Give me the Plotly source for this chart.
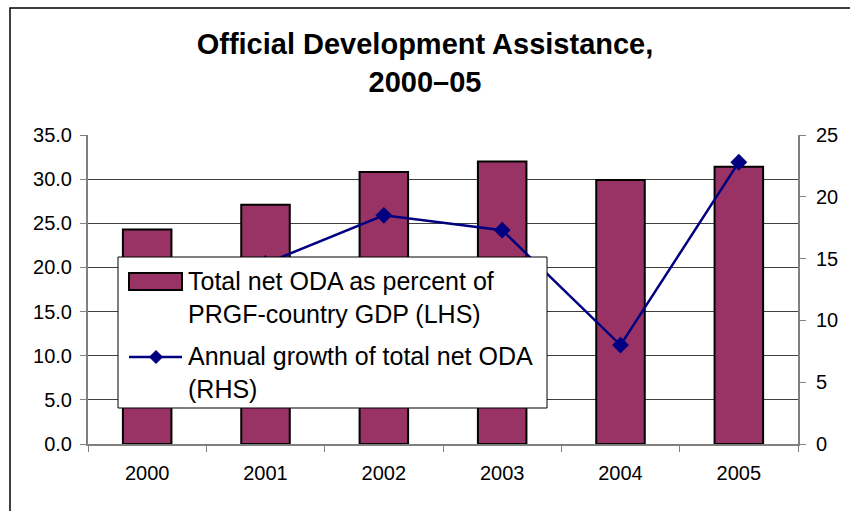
import plotly.graph_objects as go

# ---- data ----
years = ["2000", "2001", "2002", "2003", "2004", "2005"]
oda_pct_gdp = [24.3, 27.1, 30.8, 32.0, 29.9, 31.4]          # LHS, percent of GDP
oda_growth = [None, 14.6, 18.5, 17.3, 8.0, 22.8]            # RHS, annual growth
bar_name = "Total net ODA as percent of<br>PRGF-country GDP (LHS)"
line_name = "Annual growth of total net ODA<br>(RHS)"
title_text = "<b>Official Development Assistance,<br>2000\u201305</b>"

FONT = "Arial, 'Liberation Sans', sans-serif"
BAR_COLOR = "#993366"
LINE_COLOR = "#000080"
AXIS_GRAY = "#808080"

W, H = 850, 511
PL, PR, PT, PB = 88, 798, 135, 444   # plot-area edges in pixels


def fx(x):
    return (x - PL) / (PR - PL)


def fy(y):
    return (PB - y) / (PB - PT)


fig = go.Figure()
fig.add_trace(go.Bar(
    x=years, y=oda_pct_gdp, name=bar_name,
    marker=dict(color=BAR_COLOR, line=dict(color="black", width=2)),
    width=0.41, showlegend=False, yaxis="y",
))
fig.add_trace(go.Scatter(
    x=years, y=oda_growth, name=line_name, yaxis="y2",
    mode="lines+markers", connectgaps=False,
    line=dict(color=LINE_COLOR, width=2.5),
    marker=dict(symbol="diamond", size=13, color=LINE_COLOR),
    showlegend=False,
))

shapes = []
# outer chart frame (top and left edges visible)
shapes.append(dict(type="rect", xref="paper", yref="paper",
                   x0=fx(10), x1=fx(900), y0=fy(560), y1=fy(8),
                   line=dict(color="black", width=1.5), fillcolor="rgba(0,0,0,0)",
                   layer="below"))
# legend box
shapes.append(dict(type="rect", xref="paper", yref="paper",
                   x0=fx(118), x1=fx(547), y0=fy(408), y1=fy(257),
                   line=dict(color="black", width=1), fillcolor="white",
                   layer="above"))
# bar swatch
shapes.append(dict(type="rect", xref="paper", yref="paper",
                   x0=fx(129), x1=fx(182), y0=fy(290), y1=fy(273),
                   line=dict(color="black", width=2), fillcolor=BAR_COLOR,
                   layer="above"))
# line swatch
shapes.append(dict(type="line", xref="paper", yref="paper",
                   x0=fx(129), x1=fx(182), y0=fy(357), y1=fy(357),
                   line=dict(color=LINE_COLOR, width=2.5), layer="above"))
cx, cy, r = 156, 357, 6.5
shapes.append(dict(type="path", xref="paper", yref="paper",
                   path=(f"M {fx(cx)} {fy(cy - r)} L {fx(cx + r)} {fy(cy)} "
                         f"L {fx(cx)} {fy(cy + r)} L {fx(cx - r)} {fy(cy)} Z"),
                   fillcolor=LINE_COLOR, line=dict(color=LINE_COLOR, width=1),
                   layer="above"))

annotations = [
    dict(xref="paper", yref="paper", x=fx(186), y=fy(297), xanchor="left",
         yanchor="middle", align="left", showarrow=False, text=bar_name,
         font=dict(family=FONT, size=25, color="black")),
    dict(xref="paper", yref="paper", x=fx(186), y=fy(372), xanchor="left",
         yanchor="middle", align="left", showarrow=False, text=line_name,
         font=dict(family=FONT, size=25, color="black")),
]

fig.update_layout(
    width=W, height=H,
    margin=dict(l=PL, r=W - PR, t=PT, b=H - PB),
    paper_bgcolor="white", plot_bgcolor="white",
    font=dict(family=FONT, color="black"),
    title=dict(text=title_text, x=0.5, xref="container", xanchor="center",
               y=1 - 54 / H, yref="container", yanchor="middle",
               font=dict(family=FONT, size=29, color="black")),
    bargap=0.59,
    xaxis=dict(
        type="category", showline=True, linecolor=AXIS_GRAY, linewidth=2,
        ticks="outside", tickson="boundaries", ticklen=6, tickcolor=AXIS_GRAY,
        tickwidth=1, tickfont=dict(size=20), showgrid=False,
        ticklabelstandoff=10,
    ),
    yaxis=dict(
        range=[0, 35], dtick=5, tickformat=".1f", showline=True,
        linecolor=AXIS_GRAY, linewidth=2, ticks="outside", ticklen=6,
        tickcolor=AXIS_GRAY, tickfont=dict(size=20), showgrid=True,
        gridcolor="#404040", gridwidth=1, zeroline=False,
        ticklabelstandoff=4,
    ),
    yaxis2=dict(
        range=[0, 25], dtick=5, overlaying="y", side="right", showline=True,
        linecolor=AXIS_GRAY, linewidth=2, ticks="outside", ticklen=6,
        tickcolor=AXIS_GRAY, tickfont=dict(size=20), showgrid=False,
        zeroline=False, ticklabelstandoff=6,
    ),
    shapes=shapes,
    annotations=annotations,
)

fig.write_html("out.html")
